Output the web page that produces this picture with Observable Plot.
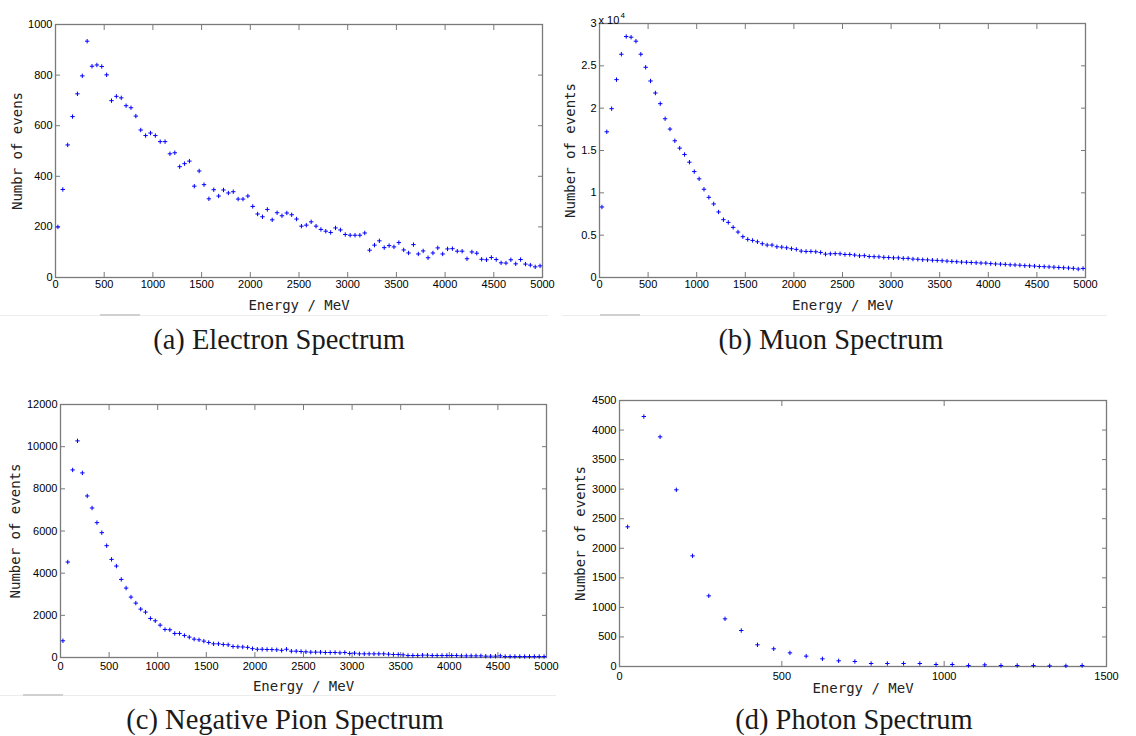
<!DOCTYPE html>
<html>
<head>
<meta charset="utf-8">
<script src="https://cdn.jsdelivr.net/npm/d3@7"></script>
<script src="https://cdn.jsdelivr.net/npm/@observablehq/plot@0.6"></script>
<style>
  html, body { margin: 0; padding: 0; background: #fff; }
  body { width: 1136px; height: 736px; position: relative; overflow: hidden; }
  .panel { position: absolute; }
  .cap { position: absolute; font-family: "Liberation Serif", "DejaVu Serif", serif; font-size: 28.5px;
         white-space: nowrap; transform: translate(-50%, -50%); color: #1a1a1a; line-height: 1; }
  .sep { position: absolute; height: 1px; background: #ececec; }
  .bar { position: absolute; height: 2px; background: #d0d0d0; }
</style>
</head>
<body>
<script>
// ---------- data ----------
const energyBins = d3.range(25, 5000, 50);   // 50 MeV histogram bin centres, 0–5000 MeV
const photonBins = d3.range(25, 1450, 50);   // 50 MeV histogram bin centres, 0–1450 MeV

const electronCounts = [
  200,348,524,636,726,797,934,835,840,834, 801,699,716,710,679,671,638,583,561,571,
  561,537,537,489,493,438,450,460,361,421, 367,311,347,322,346,334,339,310,310,322,
  281,251,240,269,228,256,244,255,248,231, 203,207,220,203,190,183,178,196,188,170,
  167,167,167,176,108,128,145,118,126,121, 138,109,97,130,93,105,78,97,117,93,
  113,114,104,104,74,101,96,72,70,79, 71,58,57,70,54,71,53,49,42,46
];

const muonCounts = [
  8330,17210,19940,23370,26370,28460,28380,27910,26370,24830,
  23210,21790,20530,18750,17530,16150,15280,14530,13620,12510,
  11650,10420,9470,8690,7740,6830,6510,5920,5370,4820,
  4500,4380,4220,3990,3830,3830,3630,3590,3510,3400,
  3320,3120,3080,3080,3040,2960,2760,2800,2820,2800,
  2720,2720,2650,2560,2580,2480,2460,2440,2380,2360,
  2320,2320,2260,2260,2180,2150,2100,2080,2040,2020,
  1980,1940,1900,1860,1820,1800,1770,1740,1710,1700,
  1640,1600,1580,1550,1500,1480,1450,1400,1380,1350,
  1300,1280,1250,1220,1180,1150,1120,1080,1000,1070
];

const pionCounts = [
  792,4528,8897,10275,8755,7662,7092,6396,5921,5304,
  4654,4337,3704,3293,2865,2580,2295,2153,1852,1741,
  1535,1330,1314,1140,1140,1045,966,871,839,776,
  712,649,649,617,602,522,507,500,480,420,
  390,390,380,375,365,340,390,300,300,285,
  269,253,253,253,237,237,237,222,237,190,
  206,174,174,174,174,174,174,158,142,142,
  127,95,95,95,111,111,95,95,95,95,
  95,95,79,79,79,79,79,63,63,63,
  79,47,47,47,47,47,47,47,47,47
];

const photonCounts = [
  2363,4229,3885,2989,1872,1195,806,609,367,299,
  231,175,130,96,85,51,51,51,51,34,
  34,17,28,17,17,17,11,11,17
];

const xTicks5000   = [0,500,1000,1500,2000,2500,3000,3500,4000,4500,5000];
const electronYTicks = [0,200,400,600,800,1000];
const muonYTicks   = [0,5000,10000,15000,20000,25000,30000];
const pionYTicks   = [0,2000,4000,6000,8000,10000,12000];
const photonXTicks = [0,500,1000,1500];
const photonYTicks = [0,500,1000,1500,2000,2500,3000,3500,4000,4500];

const captions = ["(a) Electron Spectrum", "(b) Muon Spectrum", "(c) Negative Pion Spectrum", "(d) Photon Spectrum"];

// ---------- drawing ----------
const mono = "DejaVu Sans Mono, Liberation Mono, monospace";
const plus = {draw(ctx, size) {
  const r = Math.sqrt(size / Math.PI);
  ctx.moveTo(-r, 0); ctx.lineTo(r, 0);
  ctx.moveTo(0, -r); ctx.lineTo(0, r);
}};

function spectrum(cfg) {
  const {bins, counts, xDomain, xTicks, yDomain, yTicks, yFormat = d => String(d), ylabel,
         width, height, mL, mR, mT, mB, xPad, xlabelDy, ylabelDx, extra = []} = cfg;
  const rows = bins.map((e, i) => ({energy: e, count: counts[i]}));
  const axisStroke = "#7a7a7a";
  return Plot.plot({
    width, height, marginLeft: mL, marginRight: mR, marginTop: mT, marginBottom: mB,
    style: {fontFamily: "Liberation Sans, Arial, sans-serif", fontSize: "11px", color: "#000",
            background: "transparent", overflow: "visible"},
    x: {domain: xDomain},
    y: {domain: yDomain},
    marks: [
      Plot.axisX(xTicks, {anchor: "bottom", tickSize: 5, dy: -5, fill: "none", stroke: axisStroke, label: null}),
      Plot.axisX(xTicks, {anchor: "top", tickSize: 5, dy: 5, fill: "none", stroke: axisStroke, label: null}),
      Plot.axisX(xTicks, {anchor: "bottom", tickSize: 0, tickPadding: xPad, tickFormat: d => String(d), fill: "#000", label: null}),
      Plot.axisY(yTicks, {anchor: "left", tickSize: 5, dx: 5, fill: "none", stroke: axisStroke, label: null}),
      Plot.axisY(yTicks, {anchor: "right", tickSize: 5, dx: -5, fill: "none", stroke: axisStroke, label: null}),
      Plot.axisY(yTicks, {anchor: "left", tickSize: 0, tickPadding: 3, tickFormat: yFormat, fill: "#000", label: null}),
      Plot.frame({stroke: axisStroke, strokeWidth: 1.3}),
      Plot.dot(rows, {x: "energy", y: "count", symbol: plus, r: 2.2, stroke: "#0000ff", fill: "none", strokeWidth: 1}),
      Plot.text(["Energy / MeV"], {frameAnchor: "bottom", dy: xlabelDy, textAnchor: "middle", lineAnchor: "middle",
                                   fontFamily: mono, fontSize: 14, fill: "#222"}),
      Plot.text([ylabel], {frameAnchor: "left", dx: ylabelDx, rotate: -90, textAnchor: "middle", lineAnchor: "middle",
                           fontFamily: mono, fontSize: 14, fill: "#222"}),
      ...extra
    ]
  });
}

function place(node, left, top) {
  const div = document.createElement("div");
  div.className = "panel";
  div.style.left = left + "px";
  div.style.top = top + "px";
  div.appendChild(node);
  document.body.appendChild(div);
}
function addEl(cls, styles, text) {
  const d = document.createElement("div");
  d.className = cls;
  Object.assign(d.style, styles);
  if (text) d.textContent = text;
  document.body.appendChild(d);
}

// faint page-break artefacts
addEl("sep", {left: "0px", top: "315px", width: "548px"});
addEl("sep", {left: "562px", top: "315px", width: "545px"});
addEl("sep", {left: "0px", top: "695px", width: "556px"});
addEl("bar", {left: "100px", top: "314px", width: "40px"});
addEl("bar", {left: "600px", top: "314px", width: "40px"});
addEl("bar", {left: "23px", top: "694px", width: "40px"});

place(spectrum({
  bins: energyBins, counts: electronCounts, xDomain: [0, 5000], xTicks: xTicks5000,
  yDomain: [0, 1000], yTicks: electronYTicks, ylabel: "Numbr of evens",
  width: 568, height: 318, mL: 55, mR: 26, mT: 24, mB: 41, xPad: 3, xlabelDy: 28, ylabelDx: -38
}), 0, 0);

place(spectrum({
  bins: energyBins, counts: muonCounts, xDomain: [0, 5000], xTicks: xTicks5000,
  yDomain: [0, 30000], yTicks: muonYTicks, yFormat: d => String(d / 1e4), ylabel: "Number of events",
  width: 560, height: 318, mL: 39, mR: 35, mT: 23, mB: 41, xPad: 3, xlabelDy: 28, ylabelDx: -29,
  extra: [
    Plot.text(["x 10"], {frameAnchor: "top-left", dx: -1, dy: -7, textAnchor: "start", fontSize: 11, fill: "#000"}),
    Plot.text(["4"], {frameAnchor: "top-left", dx: 21, dy: -11, textAnchor: "start", fontSize: 8, fill: "#000"})
  ]
}), 560, 0);

place(spectrum({
  bins: energyBins, counts: pionCounts, xDomain: [0, 5000], xTicks: xTicks5000,
  yDomain: [0, 12000], yTicks: pionYTicks, ylabel: "Number of events",
  width: 568, height: 318, mL: 60, mR: 22, mT: 24, mB: 41, xPad: 5, xlabelDy: 29, ylabelDx: -45
}), 0, 380);

place(spectrum({
  bins: photonBins, counts: photonCounts, xDomain: [0, 1500], xTicks: photonXTicks,
  yDomain: [0, 4500], yTicks: photonYTicks, ylabel: "Number of events",
  width: 576, height: 318, mL: 59, mR: 30, mT: 20, mB: 32, xPad: 6, xlabelDy: 22, ylabelDx: -39
}), 560, 380);

addEl("cap", {left: "279px", top: "340px"}, captions[0]);
addEl("cap", {left: "831px", top: "340px"}, captions[1]);
addEl("cap", {left: "285px", top: "720px"}, captions[2]);
addEl("cap", {left: "854px", top: "720px"}, captions[3]);
</script>
</body>
</html>
